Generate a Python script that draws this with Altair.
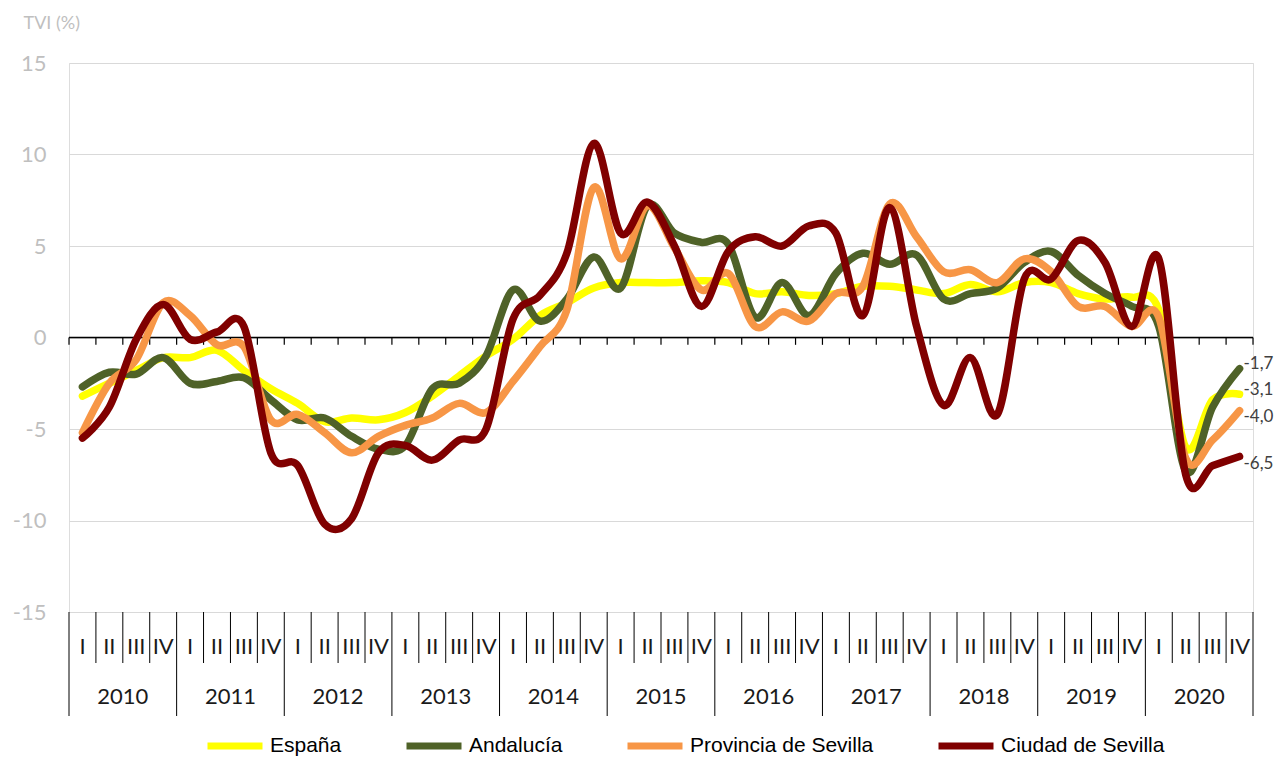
import altair as alt
import pandas as pd

# ---------------- data ----------------
quarters = ["I", "II", "III", "IV"]
years = [2010, 2011, 2012, 2013, 2014, 2015, 2016, 2017, 2018, 2019, 2020]

series_names = ["España", "Andalucía", "Provincia de Sevilla", "Ciudad de Sevilla"]
series_colors = ["#FFFF00", "#4F6228", "#F79646", "#800000"]

espana = [-3.2, -2.5, -1.8, -1.1, -1.1, -0.7, -1.8, -2.8, -3.6, -4.6, -4.4,
          -4.5, -4.1, -3.2, -2.1, -1.0, -0.1, 1.2, 1.9, 2.7, 3.0, 3.0,
          3.0, 3.1, 3.0, 2.4, 2.5, 2.3, 2.4, 2.8, 2.8, 2.6, 2.4, 2.9,
          2.5, 3.0, 3.0, 2.4, 2.1, 2.2, 1.5, -6.0, -3.4, -3.1]
andalucia = [-2.7, -1.9, -2.0, -1.1, -2.5, -2.4, -2.2, -3.4, -4.5, -4.4, -5.4,
             -6.1, -5.9, -2.8, -2.5, -1.0, 2.6, 0.9, 2.1, 4.4, 2.7, 7.2,
             5.7, 5.2, 5.1, 1.1, 3.0, 1.2, 3.5, 4.6, 4.0, 4.5, 2.1, 2.4,
             2.7, 4.1, 4.7, 3.4, 2.4, 1.7, 0.6, -7.3, -3.8, -1.7]
provincia = [-5.2, -2.5, -1.2, 1.9, 1.2, -0.4, -0.5, -4.5, -4.2, -5.2, -6.3,
             -5.4, -4.8, -4.4, -3.6, -4.1, -2.4, -0.5, 1.5, 8.2, 4.3, 7.2,
             4.9, 2.6, 3.5, 0.6, 1.4, 0.9, 2.4, 2.8, 7.3, 5.5, 3.6, 3.7,
             3.0, 4.3, 3.6, 1.7, 1.7, 0.6, 1.1, -6.6, -5.6, -4.0]
ciudad = [-5.5, -3.8, -0.1, 1.8, -0.1, 0.3, 0.6, -6.3, -7.0, -10.2, -9.9,
          -6.3, -5.9, -6.7, -5.6, -5.0, 1.0, 2.3, 4.6, 10.6, 5.7, 7.4,
          5.0, 1.7, 4.7, 5.5, 5.0, 6.1, 5.7, 1.2, 7.1, 0.6, -3.7, -1.1,
          -4.2, 3.2, 3.2, 5.3, 4.1, 0.6, 4.3, -7.5, -7.0, -6.5]

all_series = [espana, andalucia, provincia, ciudad]
n = len(espana)

# ---------------- tables ----------------
rows = []
for name, vals in zip(series_names, all_series):
    for i, v in enumerate(vals):
        rows.append({"pos": i + 0.5, "value": v, "series": name})
df = pd.DataFrame(rows)

end_df = pd.DataFrame({
    "pos": [n - 0.5] * 4,
    "value": [vals[-1] for vals in all_series],
    "label": [f"{vals[-1]:.1f}".replace(".", ",") for vals in all_series],
    "series": series_names,
})

bounds = pd.DataFrame({"b": list(range(n + 1))})
bounds["y0"] = 0.0
bounds["y1"] = -0.4
bounds["is_year"] = bounds["b"] % 4 == 0

qlab = pd.DataFrame({"pos": [i + 0.5 for i in range(n)],
                     "q": [quarters[i % 4] for i in range(n)]})
ylab = pd.DataFrame({"pos": [k * 4 + 2 for k in range(len(years))],
                     "year": [str(y) for y in years]})
zero_df = pd.DataFrame({"x0": [0], "x1": [n], "y": [0]})

# ---------------- scales / axes ----------------
W, H = 1184, 549
xs = alt.Scale(domain=[0, n], nice=False, zero=False)
ys = alt.Scale(domain=[-15, 15], nice=False, zero=False)

yaxis = alt.Axis(
    values=[-15, -10, -5, 0, 5, 10, 15], grid=True, gridColor="#d9d9d9",
    gridWidth=1, domain=False, ticks=False, labelColor="#bfbfbf",
    labelFont="Lato", labelFontSize=22, labelPadding=23,
    labelExpr="toString(datum.value)",
    title="TVI (%)", titleAngle=0, titleAlign="left", titleBaseline="middle",
    titleX=-46, titleY=-40, titleColor="#bfbfbf", titleFont="Lato",
    titleFontSize=18, titleFontWeight="normal",
)

color = alt.Color(
    "series:N",
    scale=alt.Scale(domain=series_names, range=series_colors),
    sort=series_names,
    legend=alt.Legend(
        title=None, orient="none", legendX=135, legendY=652,
        direction="horizontal", symbolType="stroke", symbolStrokeWidth=7,
        symbolSize=3025, labelFont="Liberation Sans", labelFontSize=21,
        labelColor="#000000", columnPadding=50, labelOffset=4, labelLimit=0,
    ),
)

# ---------------- layers ----------------
zero_line = alt.Chart(zero_df).mark_rule(color="#000000", strokeWidth=1.5).encode(
    x=alt.X("x0:Q", scale=xs, axis=None), x2="x1:Q",
    y=alt.Y("y:Q", scale=ys, axis=yaxis),
)
zero_ticks = alt.Chart(bounds).mark_rule(color="#000000", strokeWidth=1.2).encode(
    x=alt.X("b:Q", scale=xs, axis=None),
    y=alt.Y("y0:Q", scale=ys, axis=yaxis), y2="y1:Q",
)
q_sep = alt.Chart(bounds).transform_filter("!datum.is_year").mark_rule(
    color="#000000", strokeWidth=1).encode(
    x=alt.X("b:Q", scale=xs, axis=None),
    y=alt.value(H), y2=alt.value(H + 51),
)
y_sep = alt.Chart(bounds).transform_filter("datum.is_year").mark_rule(
    color="#000000", strokeWidth=1).encode(
    x=alt.X("b:Q", scale=xs, axis=None),
    y=alt.value(H), y2=alt.value(H + 104),
)
q_text = alt.Chart(qlab).mark_text(
    font="Lato", fontSize=22, color="#1a1a1a", baseline="middle", align="center"
).encode(x=alt.X("pos:Q", scale=xs, axis=None), y=alt.value(H + 35), text="q:N")
y_text = alt.Chart(ylab).mark_text(
    font="Lato", fontSize=22, color="#1a1a1a", baseline="middle", align="center"
).encode(x=alt.X("pos:Q", scale=xs, axis=None), y=alt.value(H + 85), text="year:N")

line_layers = []
for name in series_names:
    line_layers.append(
        alt.Chart(df).transform_filter(alt.datum.series == name).mark_line(
            strokeWidth=7.5, interpolate="cardinal", strokeCap="round",
            strokeJoin="round").encode(
            x=alt.X("pos:Q", scale=xs, axis=None),
            y=alt.Y("value:Q", scale=ys, axis=yaxis),
            color=color,
        )
    )

label_dy = [-4, -5, 6, 8]
label_layers = []
for name, dy in zip(series_names, label_dy):
    label_layers.append(
        alt.Chart(end_df).transform_filter(alt.datum.series == name).mark_text(
            align="left", baseline="middle", dx=4, dy=dy, font="Lato",
            fontSize=17, color="#404040").encode(
            x=alt.X("pos:Q", scale=xs, axis=None),
            y=alt.Y("value:Q", scale=ys, axis=yaxis),
            text="label:N",
        )
    )

chart = alt.layer(
    zero_line, zero_ticks, q_sep, y_sep, q_text, y_text, *line_layers, *label_layers
).properties(
    width=W, height=H,
    autosize=alt.AutoSizeParams(type="none"),
    padding={"left": 61, "top": 55, "right": 22, "bottom": 146},
).configure_view(stroke=None).configure(background="white")

chart.save("out.html", embed_options={"renderer": "svg", "actions": False})
